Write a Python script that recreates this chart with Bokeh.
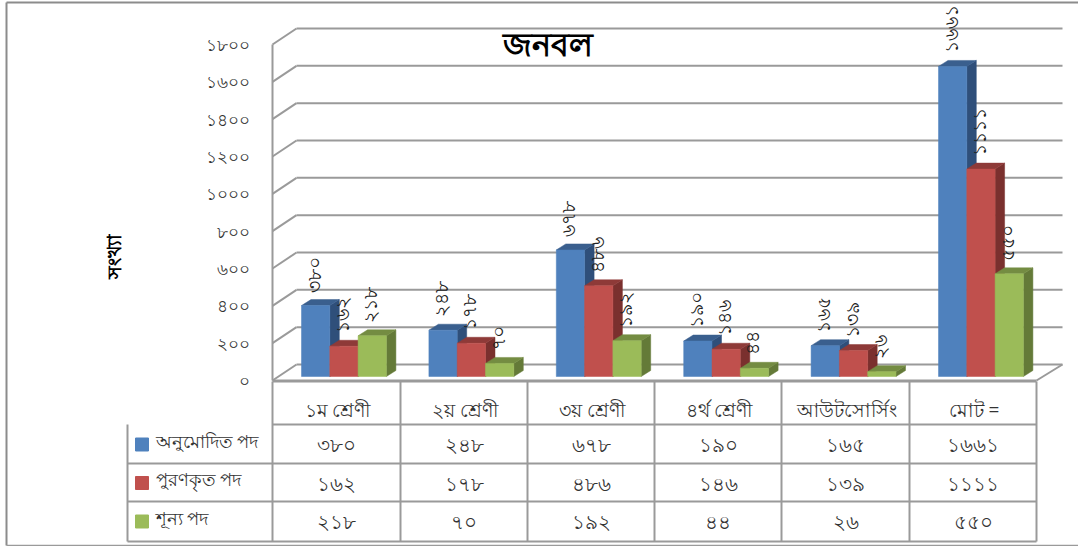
from bokeh.plotting import figure
from bokeh.embed import file_html
from bokeh.resources import INLINE
from bokeh.core.properties import value
from bokeh.models import Range1d
import math

title = "জনবল"
y_title = "সংখ্যা"
categories = ["১ম শ্রেণী", "২য় শ্রেণী", "৩য় শ্রেণী", "৪র্থ শ্রেণী", "আউটসোর্সিং", "মোট ="]
series_names = ["অনুমোদিত পদ", "পুরণকৃত পদ", "শূন্য পদ"]
approved = [380, 248, 678, 190, 165, 1661]
filled = [162, 178, 486, 146, 139, 1111]
vacant = [218, 70, 192, 44, 26, 550]
y_ticks = [0, 200, 400, 600, 800, 1000, 1200, 1400, 1600, 1800]

series = [approved, filled, vacant]
front = ["#4F81BD", "#C0504D", "#9BBB59"]
top = ["#3A5F8E", "#8E3A38", "#748C42"]
side = ["#2F4F7A", "#7A302E", "#647A38"]

BN = str.maketrans("0123456789", "০১২৩৪৫৬৭৮৯")
bn = lambda n: str(n).translate(BN)

W, H = 1078, 546
S = 336 / 1800          # pixels per unit
Y0 = 380                # pixel row of value 0 on the front edge
val = lambda py: (Y0 - py) / S   # page row -> data units

p = figure(width=W, height=H, output_backend="svg", toolbar_location=None,
           x_axis_type=None, y_axis_type=None, min_border=0,
           x_range=Range1d(0, W), y_range=Range1d(val(H), val(0)),
           outline_line_color=None)
p.grid.visible = False
F = value("Noto Sans")
GRID = "#9A9A9A"
TXT = "#333333"

# frame
p.segment([6, 6], [val(2), val(2)], [W, 6], [val(2), val(545)], line_color="#8C8C8C", line_width=2)
p.segment([6], [val(545)], [W], [val(545)], line_color="#9A9A9A", line_width=1.5)

# walls and gridlines
DX, DY = 24, 16
XL, XR, XF = 272, 1062, 1036
back = [t + DY / S for t in y_ticks]
p.segment([XL + DX] * len(y_ticks), back, [XR] * len(y_ticks), back, line_color=GRID, line_width=2)
p.segment([XL] * len(y_ticks), y_ticks, [XL + DX] * len(y_ticks), back, line_color=GRID, line_width=2)
p.segment([XL], [0], [XL], [y_ticks[-1]], line_color=GRID, line_width=2)
p.segment([XL, XF], [0, 0], [XF, XR], [0, back[0]], line_color=GRID, line_width=2)

# 3D bars
X0, PITCH, BW = 301, 127.4, 28.3
dx, dy, base = 9.5, 6 / S, 4 / S
lab_x, lab_y, lab_t = [], [], []
for i in range(len(categories)):
    for s, vals in enumerate(series):
        v = vals[i] + base
        x = X0 + i * PITCH + s * BW
        p.patch([x + BW, x + BW + dx, x + BW + dx, x + BW], [base, base + dy, v + dy, v],
                fill_color=side[s], line_color=side[s], line_width=0.5)
        p.patch([x, x + dx, x + BW + dx, x + BW], [v, v + dy, v + dy, v],
                fill_color=top[s], line_color=top[s], line_width=0.5)
        p.quad(left=[x], right=[x + BW], bottom=[base], top=[v],
               fill_color=front[s], line_color=front[s], line_width=0.5)
        lab_x.append(x + BW / 2 - 2)
        lab_y.append(v)
        lab_t.append(bn(vals[i]))

p.text(lab_x, lab_y, text=lab_t, angle=math.pi / 2, text_align="left", text_baseline="middle",
       y_offset=-13, text_font=F, text_font_size="19px", text_color="#222222")

# tick labels
p.text([249] * len(y_ticks), y_ticks, text=[bn(t) for t in y_ticks], text_align="right",
       text_baseline="middle", text_font=F, text_font_size="17px", text_color="#333333")

# titles
p.text([547], [val(43)], text=[title], text_align="center", text_baseline="middle",
       text_font=F, text_font_size="32px", text_font_style="bold", text_color="#000000")
p.text([113], [val(256)], text=[y_title], angle=math.pi / 2, text_align="center", text_baseline="middle",
       text_font=F, text_font_size="19px", text_font_style="bold", text_color="#000000")

# data table
cols = [272, 400, 527, 654, 781, 909, 1036]
rows = [val(r) for r in (381, 424, 463, 501, 541)]
LEFT = 127
p.segment(cols, [rows[0]] * 7, cols, [rows[-1]] * 7, line_color=GRID, line_width=2)
p.segment([XL] * 2 + [LEFT] * 3, rows, [cols[-1]] * 5, rows, line_color=GRID, line_width=2)
p.segment([LEFT], [rows[1]], [LEFT], [rows[-1]], line_color=GRID, line_width=2)

cx = [(a + b) / 2 for a, b in zip(cols, cols[1:])]
p.text([c + 1 for c in cx], [val(409)] * 6, text=categories, text_align="center", text_baseline="middle",
       text_font=F, text_font_size="19px", text_color=TXT)
for s, vals in enumerate(series):
    ry = val(444 + s * 38.5)
    p.text(cx, [ry] * 6, text=[bn(v) for v in vals], text_align="center", text_baseline="middle",
           text_font=F, text_font_size="20px", text_color=TXT)
    p.quad(left=[135], right=[148], bottom=[ry - 6.5 / S], top=[ry + 6.5 / S],
           fill_color=front[s], line_color=front[s])
    p.text([155], [ry + 4 / S], text=[series_names[s]], text_align="left", text_baseline="middle",
           text_font=F, text_font_size="18px", text_color=TXT)

open("out.html", "w").write(file_html(p, INLINE))
